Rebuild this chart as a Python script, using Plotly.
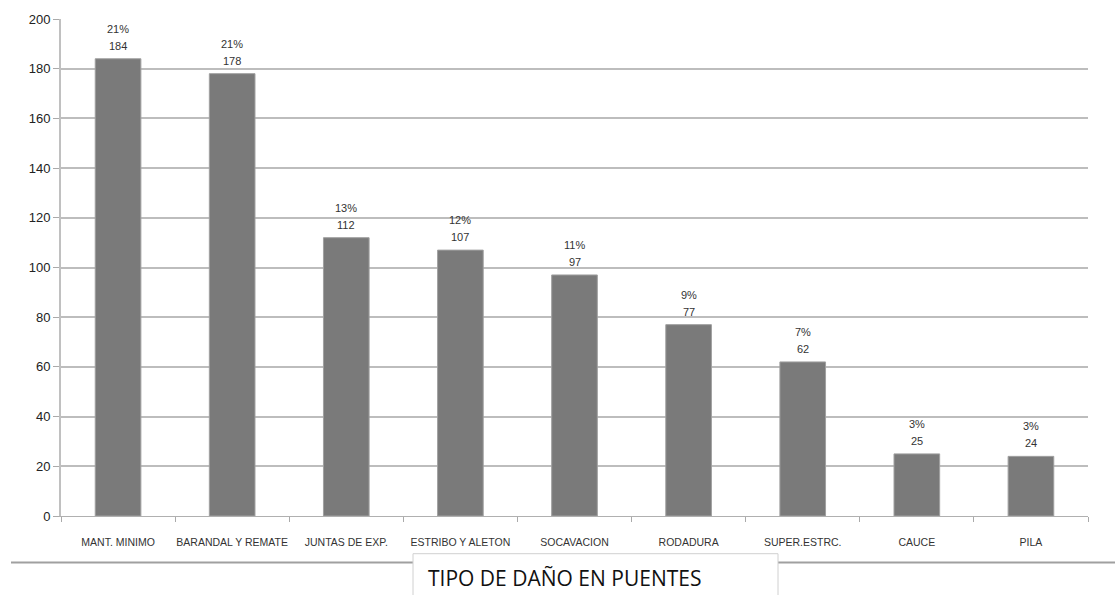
import plotly.graph_objects as go

categories = ["MANT. MINIMO", "BARANDAL Y REMATE", "JUNTAS DE EXP.", "ESTRIBO Y ALETON",
              "SOCAVACION", "RODADURA", "SUPER.ESTRC.", "CAUCE", "PILA"]
values = [184, 178, 112, 107, 97, 77, 62, 25, 24]
percents = ["21%", "21%", "13%", "12%", "11%", "9%", "7%", "3%", "3%"]
y_ticks = [0, 20, 40, 60, 80, 100, 120, 140, 160, 180, 200]
title_text = "TIPO DE DAÑO EN PUENTES"

fig = go.Figure(go.Bar(
    x=categories, y=values,
    marker=dict(color="#7a7a7a", line=dict(color="#a0a0a0", width=1)),
))

L, R, T, B = 61, 27, 15, 79
W, H = 1115, 595
pw, ph = W - L - R, H - T - B

def px(x):
    return (x - L) / pw

def py(y):
    return (H - B - y) / ph

label_font = dict(size=11, color="#333333", family="Liberation Sans")
annotations = []
for c, v, p in zip(categories, values, percents):
    annotations.append(dict(x=c, y=v, xref="x", yref="y", text=str(v), showarrow=False,
                            yshift=13, font=label_font, yanchor="middle"))
    annotations.append(dict(x=c, y=v, xref="x", yref="y", text=p, showarrow=False,
                            yshift=30, font=label_font, yanchor="middle"))
annotations.append(dict(text=title_text, xref="paper", yref="paper",
                        x=px(426), y=py(578), xanchor="left", yanchor="middle",
                        showarrow=False, font=dict(size=21, color="#111111", family="Open Sans")))

fig.update_layout(
    width=W, height=H,
    margin=dict(l=L, r=R, t=T, b=B),
    paper_bgcolor="white", plot_bgcolor="white",
    bargap=0.6, showlegend=False,
    font=dict(family="Liberation Sans", color="#222222"),
    xaxis=dict(
        tickfont=dict(size=10.5, color="#333333"),
        tickangle=0,
        ticks="outside", tickson="boundaries", ticklen=5, tickcolor="#aaaaaa",
        ticklabelstandoff=16,
        showline=True, linecolor="#b0b0b0", linewidth=1,
        showgrid=False,
    ),
    yaxis=dict(
        range=[0, 200], tickvals=y_ticks,
        tickfont=dict(size=13, color="#222222"),
        ticks="outside", ticklen=6, tickcolor="#aaaaaa",
        showline=True, linecolor="#c0c0c0", linewidth=2,
        showgrid=True, gridcolor="#bdbdbd", gridwidth=1.5,
        zeroline=False,
    ),
    shapes=[
        dict(type="line", xref="paper", yref="paper",
             x0=px(11), x1=px(413), y0=py(563), y1=py(563),
             line=dict(color="#a0a0a0", width=2)),
        dict(type="line", xref="paper", yref="paper",
             x0=px(778), x1=px(1115), y0=py(563), y1=py(563),
             line=dict(color="#a0a0a0", width=2)),
        dict(type="rect", xref="paper", yref="paper",
             x0=px(413), x1=px(778), y0=py(600), y1=py(554),
             line=dict(color="#d0d0d0", width=1), fillcolor="white"),
    ],
    annotations=annotations,
)

fig.write_html("out.html")
